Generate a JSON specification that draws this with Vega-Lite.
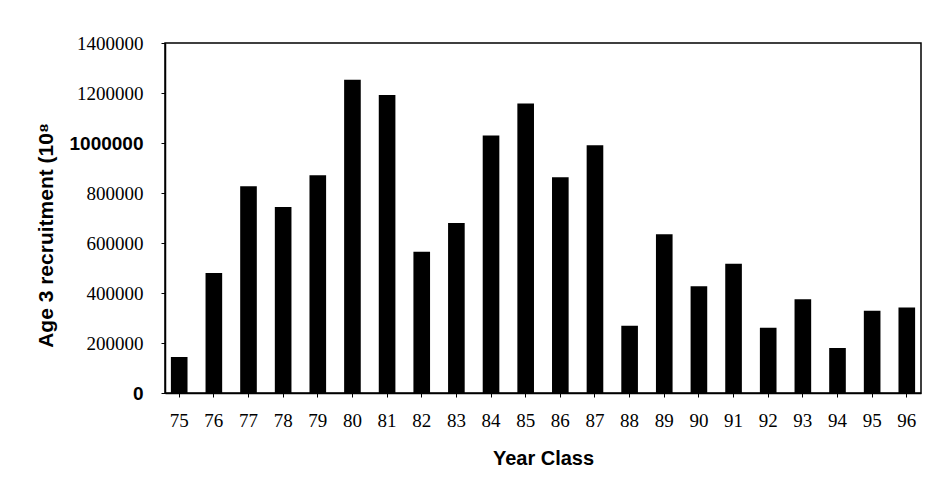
{
  "$schema": "https://vega.github.io/schema/vega-lite/v6.json",
  "width": 756,
  "height": 350,
  "autosize": {"type": "none"},
  "padding": {"left": 165, "top": 43, "right": 8, "bottom": 109},
  "background": "white",
  "config": {
    "view": {"stroke": "black", "strokeWidth": 1.5},
    "axis": {"grid": false, "domainColor": "black", "tickColor": "black", "labelColor": "black", "titleColor": "black"}
  },
  "data": {
    "values": [
      {"year": "75", "recruitment": 144000},
      {"year": "76", "recruitment": 480000},
      {"year": "77", "recruitment": 827000},
      {"year": "78", "recruitment": 744000},
      {"year": "79", "recruitment": 871000},
      {"year": "80", "recruitment": 1253000},
      {"year": "81", "recruitment": 1192000},
      {"year": "82", "recruitment": 565000},
      {"year": "83", "recruitment": 680000},
      {"year": "84", "recruitment": 1030000},
      {"year": "85", "recruitment": 1158000},
      {"year": "86", "recruitment": 863000},
      {"year": "87", "recruitment": 991000},
      {"year": "88", "recruitment": 269000},
      {"year": "89", "recruitment": 635000},
      {"year": "90", "recruitment": 427000},
      {"year": "91", "recruitment": 517000},
      {"year": "92", "recruitment": 261000},
      {"year": "93", "recruitment": 375000},
      {"year": "94", "recruitment": 180000},
      {"year": "95", "recruitment": 329000},
      {"year": "96", "recruitment": 342000}
    ]
  },
  "mark": {"type": "bar", "color": "black"},
  "encoding": {
    "x": {
      "field": "year",
      "type": "ordinal",
      "scale": {"paddingInner": 0.52, "paddingOuter": 0.17},
      "axis": {
        "title": "Year Class",
        "titleFont": "Liberation Sans",
        "titleFontSize": 20,
        "titleFontWeight": "bold",
        "titlePadding": 18,
        "labelAngle": 0,
        "labelFont": "Liberation Serif",
        "labelFontSize": 19,
        "labelPadding": 14,
        "tickSize": 4,
        "domainWidth": 1.5
      }
    },
    "y": {
      "field": "recruitment",
      "type": "quantitative",
      "scale": {"domain": [0, 1400000]},
      "axis": {
        "title": "Age 3 recruitment (10⁸",
        "titleFont": "Liberation Sans",
        "titleFontSize": 21,
        "titleFontWeight": "bold",
        "titlePadding": 13,
        "titleY": 192,
        "values": [0, 200000, 400000, 600000, 800000, 1000000, 1200000, 1400000],
        "format": "d",
        "labelFont": {"expr": "datum.value == 1000000 || datum.value == 0 ? 'Liberation Sans' : 'Liberation Serif'"},
        "labelFontWeight": {"expr": "datum.value == 1000000 || datum.value == 0 ? 'bold' : 'normal'"},
        "labelFontSize": 19,
        "labelPadding": 18,
        "tickSize": 4,
        "domainWidth": 1.5
      }
    }
  }
}
